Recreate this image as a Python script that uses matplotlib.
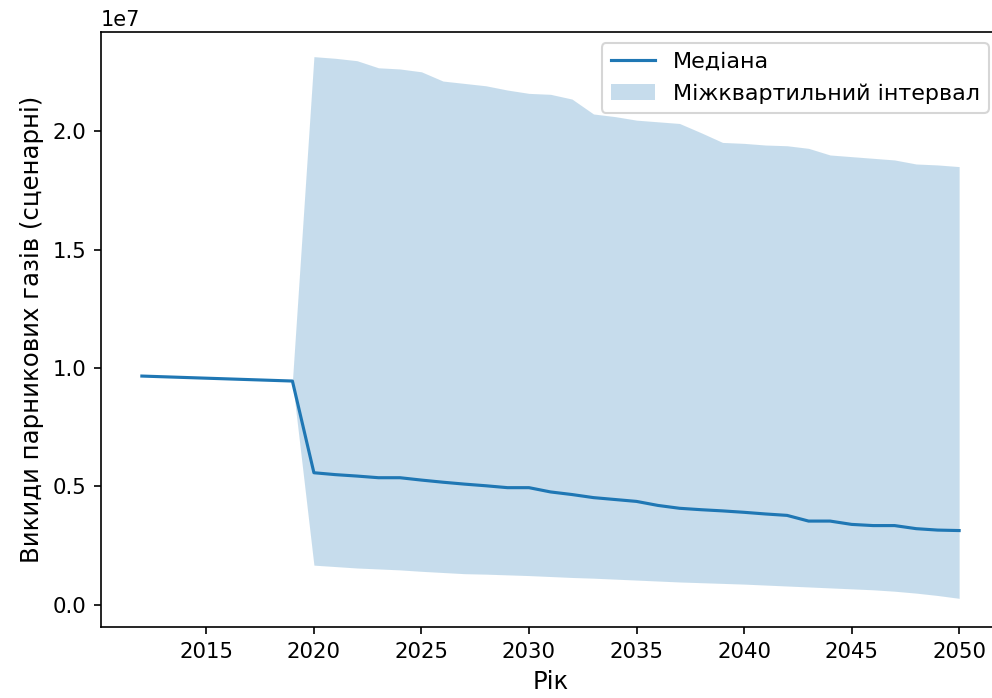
import matplotlib
matplotlib.use("Agg")
import matplotlib.pyplot as plt
import numpy as np

years = [2012, 2019] + list(range(2020, 2051))
median = [9.66, 9.45,
          5.58, 5.50, 5.44, 5.37, 5.37, 5.27, 5.18, 5.10, 5.03, 4.95,
          4.95, 4.77, 4.66, 4.53, 4.45, 4.37, 4.20, 4.08, 4.02, 3.97,
          3.91, 3.84, 3.78, 3.54, 3.54, 3.40, 3.35, 3.35, 3.22, 3.16, 3.14]
q25 = [9.66, 9.45,
       1.68, 1.62, 1.56, 1.52, 1.48, 1.42, 1.37, 1.32, 1.30, 1.27,
       1.24, 1.20, 1.16, 1.13, 1.09, 1.05, 1.01, 0.97, 0.94, 0.91,
       0.88, 0.84, 0.80, 0.76, 0.72, 0.68, 0.64, 0.58, 0.50, 0.40, 0.28]
q75 = [9.66, 9.45,
       23.14, 23.07, 22.97, 22.67, 22.62, 22.50, 22.11, 22.01, 21.91, 21.73,
       21.59, 21.55, 21.35, 20.72, 20.61, 20.46, 20.39, 20.32, 19.93, 19.52,
       19.48, 19.41, 19.38, 19.27, 18.99, 18.92, 18.85, 18.78, 18.61, 18.57, 18.50]

scale = 1e6
med = np.array(median) * scale
lo = np.array(q25) * scale
hi = np.array(q75) * scale

W, H = 992, 698
fig = plt.figure(figsize=(W / 150, H / 150), dpi=150)
ax_left, ax_right, ax_top, ax_bot = 101, 1000, 32, 627
ax = fig.add_axes([ax_left / W, (H - ax_bot) / H, (ax_right - ax_left) / W, (ax_bot - ax_top) / H])
ax.plot(years, med, color="C0", label="Медіана")
ax.fill_between(years, lo, hi, color="C0", alpha=0.25, linewidth=0,
                label="Міжквартильний інтервал")
ax.set_ylim(-0.093e7, 2.418e7)
ax.tick_params(labelsize=10.2)
ax.set_xlabel("Рік", fontsize=11.7)
ax.set_ylabel("Викиди парникових газів (сценарні)", fontsize=11.7)
ax.legend(loc="upper right", fontsize=10.7)
fig.savefig("out.png", dpi=150)
